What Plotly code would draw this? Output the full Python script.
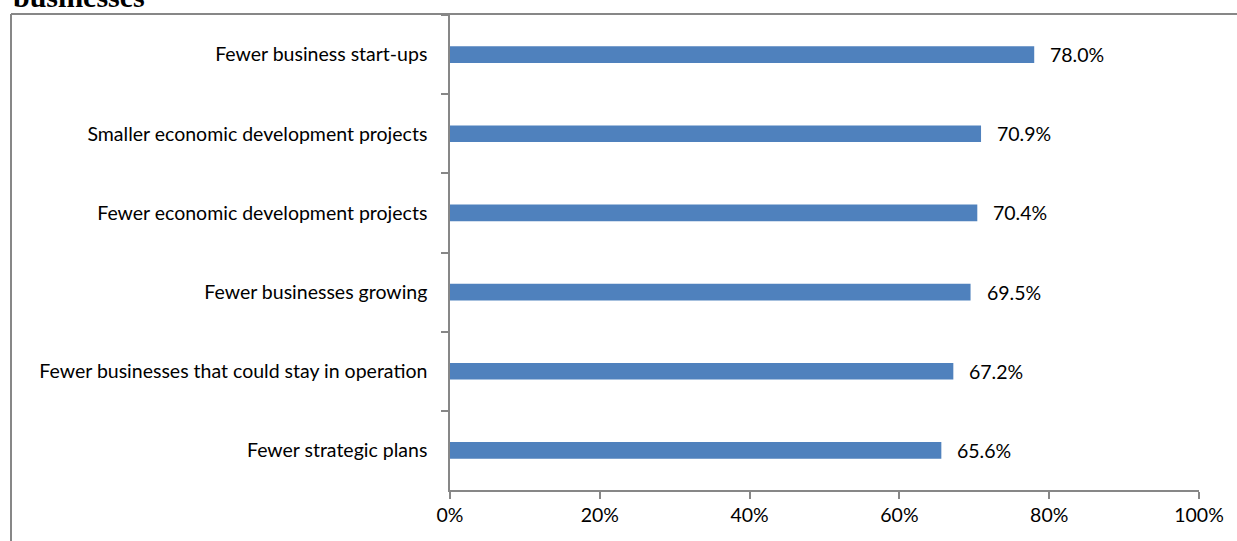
import plotly.graph_objects as go

# Survey impacts on local businesses (share of respondents)
categories = [
    "Fewer business start-ups",
    "Smaller economic development projects",
    "Fewer economic development projects",
    "Fewer businesses growing",
    "Fewer businesses that could stay in operation",
    "Fewer strategic plans",
]
values = [78.0, 70.9, 70.4, 69.5, 67.2, 65.6]
x_ticks = [0, 20, 40, 60, 80, 100]
x_tick_labels = ["0%", "20%", "40%", "60%", "80%", "100%"]
title_text = "businesses"

W, H = 1237, 541
L, R, T, B = 450, 38, 15, 51
plot_w = W - L - R
plot_h = H - T - B

FONT = "Lato"
FSIZE = 19.5
AXIS_COLOR = "#878787"

fig = go.Figure(
    go.Bar(
        x=values,
        y=categories,
        orientation="h",
        marker=dict(color="#4F81BD", line=dict(width=0)),
        hoverinfo="x+y",
    )
)

# Value labels to the right of each bar
for cat, v in zip(categories, values):
    fig.add_annotation(
        x=v, y=cat, xref="x", yref="y",
        text=f"{v:.1f}%", showarrow=False,
        xanchor="left", xshift=14,
        font=dict(family=FONT, size=FSIZE, color="#000"),
    )

# Partially visible heading above the chart frame
fig.add_annotation(
    x=(11 - L) / plot_w, y=1 + (T - 7) / plot_h,
    xref="paper", yref="paper",
    text=f"<b>{title_text}</b>", showarrow=False,
    xanchor="left", yanchor="bottom", yshift=-8,
    font=dict(family="Liberation Serif", size=30, color="#000"),
)

# Chart frame (left and top edges)
fx = (11 - L) / plot_w
fy = 1 + (T - 14) / plot_h
fig.add_shape(type="line", xref="paper", yref="paper",
              x0=fx, x1=(W + 5 - L) / plot_w, y0=fy, y1=fy,
              line=dict(color=AXIS_COLOR, width=2))
fig.add_shape(type="line", xref="paper", yref="paper",
              x0=fx, x1=fx, y0=fy, y1=-(B + 5) / plot_h,
              line=dict(color=AXIS_COLOR, width=2))

fig.update_layout(
    width=W, height=H,
    margin=dict(l=L, r=R, t=T, b=B, pad=0),
    paper_bgcolor="white", plot_bgcolor="white",
    bargap=0.79,
    showlegend=False,
    font=dict(family=FONT, size=FSIZE, color="#000"),
    xaxis=dict(
        range=[0, 100], tickmode="array",
        tickvals=x_ticks, ticktext=x_tick_labels,
        showgrid=False, zeroline=False,
        showline=True, linecolor=AXIS_COLOR, linewidth=1.5,
        ticks="outside", ticklen=7, tickcolor=AXIS_COLOR, tickwidth=1.5,
        tickfont=dict(family=FONT, size=FSIZE, color="#000"),
        fixedrange=True,
    ),
    yaxis=dict(
        autorange="reversed",
        showgrid=False, zeroline=False,
        showline=True, linecolor=AXIS_COLOR, linewidth=1.5,
        ticks="outside", ticklen=7, tickcolor=AXIS_COLOR, tickwidth=1.5,
        tickson="boundaries",
        ticklabelstandoff=17,
        tickfont=dict(family=FONT, size=FSIZE, color="#000"),
        fixedrange=True,
    ),
)

fig.write_html("out.html")
